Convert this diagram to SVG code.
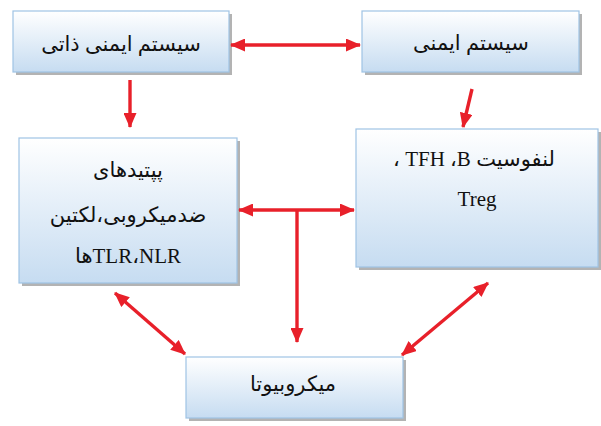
<svg xmlns="http://www.w3.org/2000/svg" width="601" height="426" viewBox="0 0 601 426">
<defs>
<linearGradient id="g" x1="0" y1="0" x2="0" y2="1">
<stop offset="0" stop-color="#ffffff"/>
<stop offset="1" stop-color="#c6dcf1"/>
</linearGradient>
<marker id="ah" viewBox="0 0 15 13" refX="14" refY="6.5" markerWidth="15" markerHeight="13" markerUnits="userSpaceOnUse" orient="auto-start-reverse">
<path d="M0,0 L15,6.5 L0,13 Z" fill="#e8202a"/>
</marker>
</defs>
<style>
.box{fill:url(#g);stroke:#9fc3e4;stroke-width:1.2}
.sh{fill:#8a8a8a;opacity:0.65}
.t{font-family:"Liberation Serif","DejaVu Sans",serif;font-size:21px;fill:#111;text-anchor:middle;direction:rtl;unicode-bidi:embed}
.c{fill:none;stroke:#e8202a;stroke-width:3.4}
</style>
<rect width="601" height="426" fill="#ffffff"/>
<g id="n1">
<rect class="sh" x="16" y="14" width="216" height="61"/>
<rect class="box" x="13" y="11" width="216" height="61"/>
<text class="t" x="121" y="51">سیستم ایمنی ذاتی</text>
</g>
<g id="n2">
<rect class="sh" x="365" y="14" width="217" height="61"/>
<rect class="box" x="362" y="11" width="217" height="61"/>
<text class="t" x="471" y="50">سیستم ایمنی</text>
</g>
<g id="n3">
<rect class="sh" x="22" y="141" width="218" height="145"/>
<rect class="box" x="19" y="138" width="218" height="145"/>
<text class="t" x="128" y="177">پپتیدهای</text>
<text class="t" x="128" y="222">ضدمیکروبی،لکتین</text>
<text class="t" x="128" y="263">NLR،&#x200F;TLRها</text>
</g>
<g id="n4">
<rect class="sh" x="359" y="132" width="242" height="138"/>
<rect class="box" x="356" y="129" width="242" height="138"/>
<text class="t" x="474" y="166">لنفوسیت B،&#x200F; TFH ، </text>
<text class="t" x="477" y="206">Treg</text>
</g>
<g id="n5">
<rect class="sh" x="189" y="360" width="217" height="61"/>
<rect class="box" x="186" y="357" width="217" height="61"/>
<text class="t" x="293" y="391">میکروبیوتا</text>
</g>
<g id="connectors">
<line class="c" x1="231" y1="45" x2="360" y2="45" marker-start="url(#ah)" marker-end="url(#ah)"/>
<line class="c" x1="130" y1="80" x2="130" y2="127" marker-end="url(#ah)"/>
<line class="c" x1="472" y1="89" x2="463" y2="127" marker-end="url(#ah)"/>
<line class="c" x1="239" y1="210" x2="354" y2="210" marker-start="url(#ah)" marker-end="url(#ah)"/>
<line class="c" x1="297" y1="210" x2="297" y2="342" marker-end="url(#ah)"/>
<line class="c" x1="115" y1="293" x2="185" y2="354" marker-start="url(#ah)" marker-end="url(#ah)"/>
<line class="c" x1="488" y1="283" x2="402" y2="355" marker-start="url(#ah)" marker-end="url(#ah)"/>
</g>
</svg>
